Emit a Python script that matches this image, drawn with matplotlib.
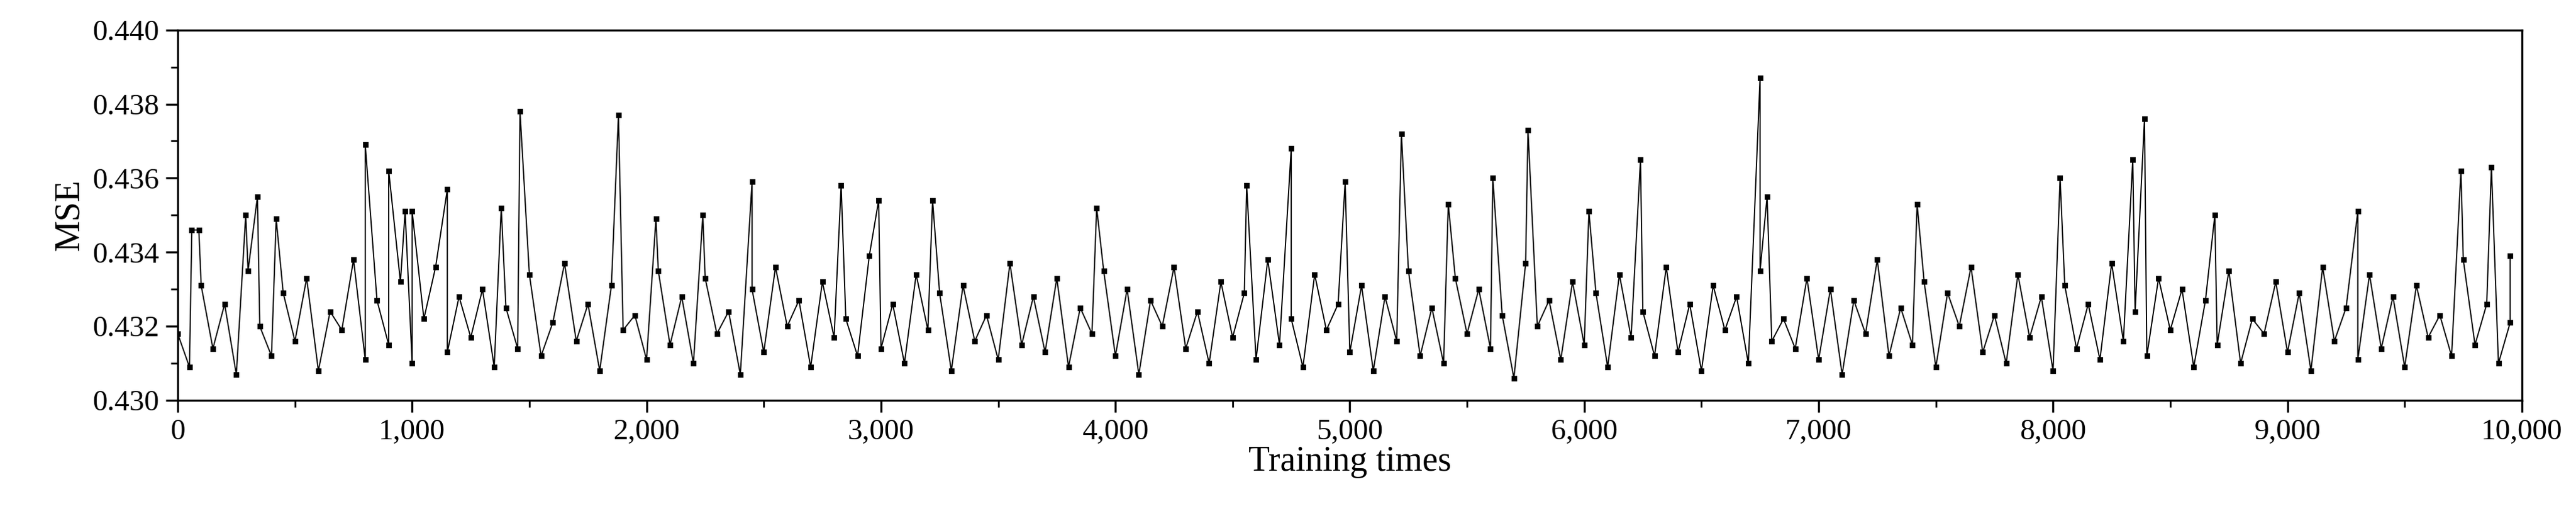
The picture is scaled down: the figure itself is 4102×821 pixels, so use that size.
import numpy as np
import matplotlib.pyplot as plt
from matplotlib.ticker import MultipleLocator, FuncFormatter

plt.rcParams['font.family'] = ['Liberation Serif', 'DejaVu Serif']

# band values, one every 50 training steps (units of 1e-4 above 0.430)
band = [
    18, 9, 31, 14, 26, 7, 35, 20, 12, 29, 16, 33, 8, 24, 19, 38, 11, 27, 15, 32,
    10, 22, 36, 13, 28, 17, 30, 9, 25, 14, 34, 12, 21, 37, 16, 26, 8, 31, 19, 23,
    11, 35, 15, 28, 10, 33, 18, 24, 7, 30, 13, 36, 20, 27, 9, 32, 17, 22, 12, 39,
    14, 26, 10, 34, 19, 29, 8, 31, 16, 23, 11, 37, 15, 28, 13, 33, 9, 25, 18, 35,
    12, 30, 7, 27, 20, 36, 14, 24, 10, 32, 17, 29, 11, 38, 15, 22, 9, 34, 19, 26,
    13, 31, 8, 28, 16, 35, 12, 25, 10, 33, 18, 30, 14, 23, 6, 37, 20, 27, 11, 32,
    15, 29, 9, 34, 17, 24, 12, 36, 13, 26, 8, 31, 19, 28, 10, 35, 16, 22, 14, 33,
    11, 30, 7, 27, 18, 38, 12, 25, 15, 32, 9, 29, 20, 36, 13, 23, 10, 34, 17, 28,
    8, 31, 14, 26, 11, 37, 16, 24, 12, 33, 19, 30, 9, 27, 15, 35, 10, 22, 18, 32,
    13, 29, 8, 36, 16, 25, 11, 34, 14, 28, 9, 31, 17, 23, 12, 38, 15, 26, 10, 21,
]
band_x = np.arange(len(band)) * 50

# isolated spikes
spike_x = [60, 90, 290, 340, 420, 800, 900, 970, 1000, 1150, 1380, 1460, 1880, 2040,
           2240, 2450, 2830, 2990, 3220, 3920, 4560, 4750, 4980, 5220, 5420, 5610,
           5760, 6020, 6240, 6750, 6780, 7420, 8030, 8340, 8390, 8690, 9300, 9740,
           9870, 9950]
spike_y = [0.4346, 0.4346, 0.4350, 0.4355, 0.4349, 0.4369, 0.4362, 0.4351, 0.4351,
           0.4357, 0.4352, 0.4378, 0.4377, 0.4349, 0.4350, 0.4359, 0.4358, 0.4354,
           0.4354, 0.4352, 0.4358, 0.4368, 0.4359, 0.4372, 0.4353, 0.4360, 0.4373,
           0.4351, 0.4365, 0.4387, 0.4355, 0.4353, 0.4360, 0.4365, 0.4376, 0.4350,
           0.4351, 0.4362, 0.4363, 0.4339]

x = np.concatenate([band_x, spike_x])
y = np.concatenate([0.430 + np.array(band) * 1e-4, spike_y])
order = np.argsort(x)
x, y = x[order], y[order]

fig = plt.figure(figsize=(20.51, 4.105), dpi=200)
ax = fig.add_axes([0.069, 0.224, 0.91, 0.718])
ax.plot(x, y, color='black', lw=0.7, marker='s', ms=2.2)

ax.set_xlim(0, 10000)
ax.set_ylim(0.430, 0.440)
ax.xaxis.set_major_locator(MultipleLocator(1000))
ax.xaxis.set_minor_locator(MultipleLocator(500))
ax.yaxis.set_major_locator(MultipleLocator(0.002))
ax.yaxis.set_minor_locator(MultipleLocator(0.001))
ax.xaxis.set_major_formatter(FuncFormatter(lambda v, p: f'{int(v):,}'))
ax.yaxis.set_major_formatter(FuncFormatter(lambda v, p: f'{v:.3f}'))
ax.tick_params(which='major', length=7, width=1.2, labelsize=17)
ax.tick_params(which='minor', length=4, width=1.0)
for s in ax.spines.values():
    s.set_linewidth(1.2)
ax.set_xlabel('Training times', fontsize=20, labelpad=0)
ax.set_ylabel('MSE', fontsize=20)

fig.savefig('out.png', dpi=200)
